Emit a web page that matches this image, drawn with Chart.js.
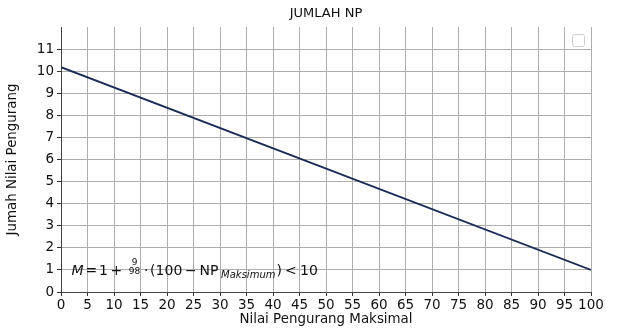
<!DOCTYPE html>
<html>
<head>
<meta charset="utf-8">
<script src="https://cdn.jsdelivr.net/npm/chart.js@4"></script>
<style>
  html, body { margin: 0; padding: 0; background: #fff; }
  #wrap { width: 619px; height: 331px; }
</style>
</head>
<body>
<div id="wrap"><canvas id="npChart" width="619" height="331"></canvas></div>
<script>
// data
const npMaksimum = [0, 100];
const jumlahNilai = [10.18, 1.0];
const yTicks = [0, 1, 2, 3, 4, 5, 6, 7, 8, 9, 10, 11];

const FONT = "'DejaVu Sans', sans-serif";

// empty legend frame in the top right corner
const legendBox = {
  id: "legendBox",
  afterDraw(chart) {
    const { ctx, chartArea } = chart;
    const x = chartArea.right - 19, y = chartArea.top + 7;
    ctx.save();
    ctx.strokeStyle = "#cccccc";
    ctx.lineWidth = 1;
    ctx.beginPath();
    ctx.roundRect(x + 0.5, y + 0.5, 12, 12, 2);
    ctx.stroke();
    ctx.restore();
  }
};

// formula text, anchored at data point (2, 1)
const formula = {
  id: "formula",
  afterDatasetsDraw(chart) {
    const { ctx, scales } = chart;
    const x0 = scales.x.getPixelForValue(2);
    const yc = scales.y.getPixelForValue(1);
    const base = yc + 5;
    ctx.save();
    ctx.fillStyle = "#111";
    ctx.textBaseline = "alphabetic";
    ctx.textAlign = "left";

    const put = (txt, dx, font, y) => {
      ctx.font = font;
      ctx.fillText(txt, x0 + dx, y);
    };
    const reg = "14px " + FONT;
    const ita = "oblique 14px " + FONT;

    put("M", 0, ita, base);
    put("=", 14, reg, base);
    put("1", 27.5, reg, base);
    put("+", 39, reg, base);

    // fraction 9/98
    ctx.font = "9px " + FONT;
    ctx.textAlign = "center";
    ctx.fillText("9", x0 + 63, yc - 4.5);
    ctx.fillText("98", x0 + 63, yc + 4);
    ctx.textAlign = "left";

    put("\u00b7", 72.5, reg, base);
    put("(", 78.5, reg, base);
    put("100", 84, reg, base);
    put("\u2212", 113.5, reg, base);
    put("NP", 128, reg, base);
    put("Maksimum", 149.5, "oblique 10px " + FONT, yc + 8);
    put(")", 205, reg, base);
    put("<", 213.5, reg, base);
    put("10", 228.5, reg, base);
    ctx.restore();
  }
};

const ctx = document.getElementById("npChart");

new Chart(ctx, {
  type: "line",
  data: {
    datasets: [
      {
        data: npMaksimum.map((v, i) => ({ x: v, y: jumlahNilai[i] })),
        borderColor: "#1b2a57",
        borderWidth: 1.8,
        pointRadius: 0,
        tension: 0
      }
    ]
  },
  options: {
    responsive: false,
    animation: false,
    layout: { padding: { left: 0, right: 28, top: 0, bottom: 0 } },
    plugins: {
      legend: { display: false },
      tooltip: { enabled: false },
      title: {
        display: true,
        fullSize: false,
        text: "JUMLAH NP",
        color: "#111",
        font: { family: FONT, size: 13, weight: "normal" },
        padding: { top: 6, bottom: 5.4 }
      }
    },
    scales: {
      x: {
        type: "linear",
        min: 0,
        max: 100,
        ticks: {
          stepSize: 5,
          color: "#111",
          padding: 1,
          maxRotation: 0,
          autoSkip: false,
          font: { family: FONT, size: 13.5 }
        },
        grid: { color: "#adadad", tickColor: "#333", tickLength: 4 },
        border: { color: "#444" },
        title: {
          display: true,
          text: "Nilai Pengurang Maksimal",
          color: "#111",
          font: { family: FONT, size: 13.4 },
          padding: { top: 0, bottom: 3 }
        },
        afterFit(scale) { scale.height = 39; }
      },
      y: {
        min: 0,
        max: 12,
        afterBuildTicks(scale) {
          scale.ticks = yTicks.map(v => ({ value: v }));
        },
        ticks: {
          color: "#111",
          padding: 3,
          font: { family: FONT, size: 13.5 }
        },
        grid: { color: "#adadad", tickColor: "#333", tickLength: 4 },
        border: { color: "#444" },
        title: {
          display: true,
          text: "Jumah Nilai Pengurang",
          color: "#111",
          font: { family: FONT, size: 13.4 },
          padding: { top: 4, bottom: 0 }
        },
        afterFit(scale) { scale.width = 61; }
      }
    }
  },
  plugins: [legendBox, formula]
});
</script>
</body>
</html>
